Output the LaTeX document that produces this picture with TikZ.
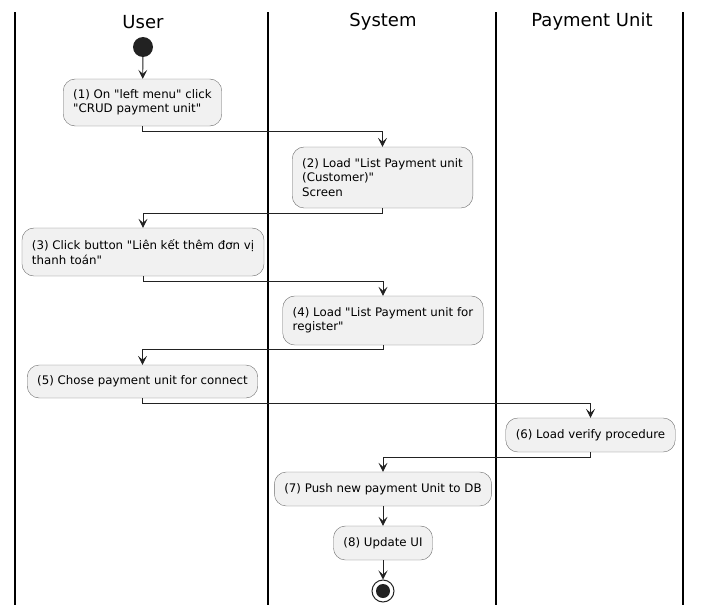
\documentclass[tikz,border=0pt]{standalone}
\usepackage{fontspec}
\setmainfont{DejaVu Sans}[Ligatures=TeXOff]
\usetikzlibrary{arrows.meta,positioning}
\definecolor{uFill}{RGB}{241,241,241}
\definecolor{uBorder}{RGB}{110,110,110}
\definecolor{uDark}{RGB}{34,34,34}
\tikzset{
    act/.style={rectangle, draw=uBorder, fill=uFill, rounded corners=12pt, align=left,
                inner xsep=10pt, inner ysep=0pt,
                font=\fontsize{11.8}{14.3}\selectfont},
    lanehead/.style={font=\fontsize{18}{21}\selectfont},
    lane/.style={line width=1.5pt, black},
    flow/.style={-{Stealth[length=9pt,width=9pt,inset=4pt]}, line width=0.9pt, uDark},
    startdot/.style={circle, fill=uDark, inner sep=0pt, minimum size=20pt},
    endring/.style={circle, draw=uDark, line width=1pt, fill=white, inner sep=0pt, minimum size=22pt}
}
\begin{document}
\begin{tikzpicture}[x=1pt,y=-1pt]
\useasboundingbox (0,0) rectangle (702,613);
\draw[lane] ( 15,12)--( 15,605);
\draw[lane] (268,12)--(268,605);
\draw[lane] (496,12)--(496,605);
\draw[lane] (683,12)--(683,605);
\node[lanehead] (hUser) at (143,22) {User};
\node[lanehead] (hSys)  at (383,22) {System};
\node[lanehead] (hPay)  at (592,22) {Payment Unit};

\node[startdot] (start) at (143,47) {};
\node[act, minimum height=47pt] (n1) at (142.5,102.5)
    {(1) On "left menu" click\\"CRUD payment unit"};
\node[act, minimum height=61pt] (n2) at (382.5,177.5)
    {(2) Load "List Payment unit\\(Customer)"\\Screen};
\node[act, minimum height=48pt] (n3) at (143,252)
    {(3) Click button "Liên kết thêm đơn vị\\thanh toán"};
\node[act, minimum height=49pt] (n4) at (383,320.5)
    {(4) Load "List Payment unit for\\register"};
\node[act, minimum height=33pt] (n5) at (142.5,381.5)
    {(5) Chose payment unit for connect};
\node[act, minimum height=34pt] (n6) at (590.5,435)
    {(6) Load verify procedure};
\node[act, minimum height=34pt] (n7) at (383,489)
    {(7) Push new payment Unit to DB};
\node[act, minimum height=34pt] (n8) at (383,543)
    {(8) Update UI};
\node[endring] (stop) at (383,591) {};
\fill[uDark] (stop) circle (7pt);

\draw[flow] (start) -- (n1);
\draw[flow] (n1.south) -- ++(0,5) -| (n2.north);
\draw[flow] (n2.south) -- ++(0,5) -| (n3.north);
\draw[flow] (n3.south) -- ++(0,5) -| (n4.north);
\draw[flow] (n4.south) -- ++(0,4) -| (n5.north);
\draw[flow] (n5.south) -- ++(0,5) -| (n6.north);
\draw[flow] (n6.south) -- ++(0,5) -| (n7.north);
\draw[flow] (n7) -- (n8);
\draw[flow] (n8) -- (stop);
\end{tikzpicture}
\end{document}
